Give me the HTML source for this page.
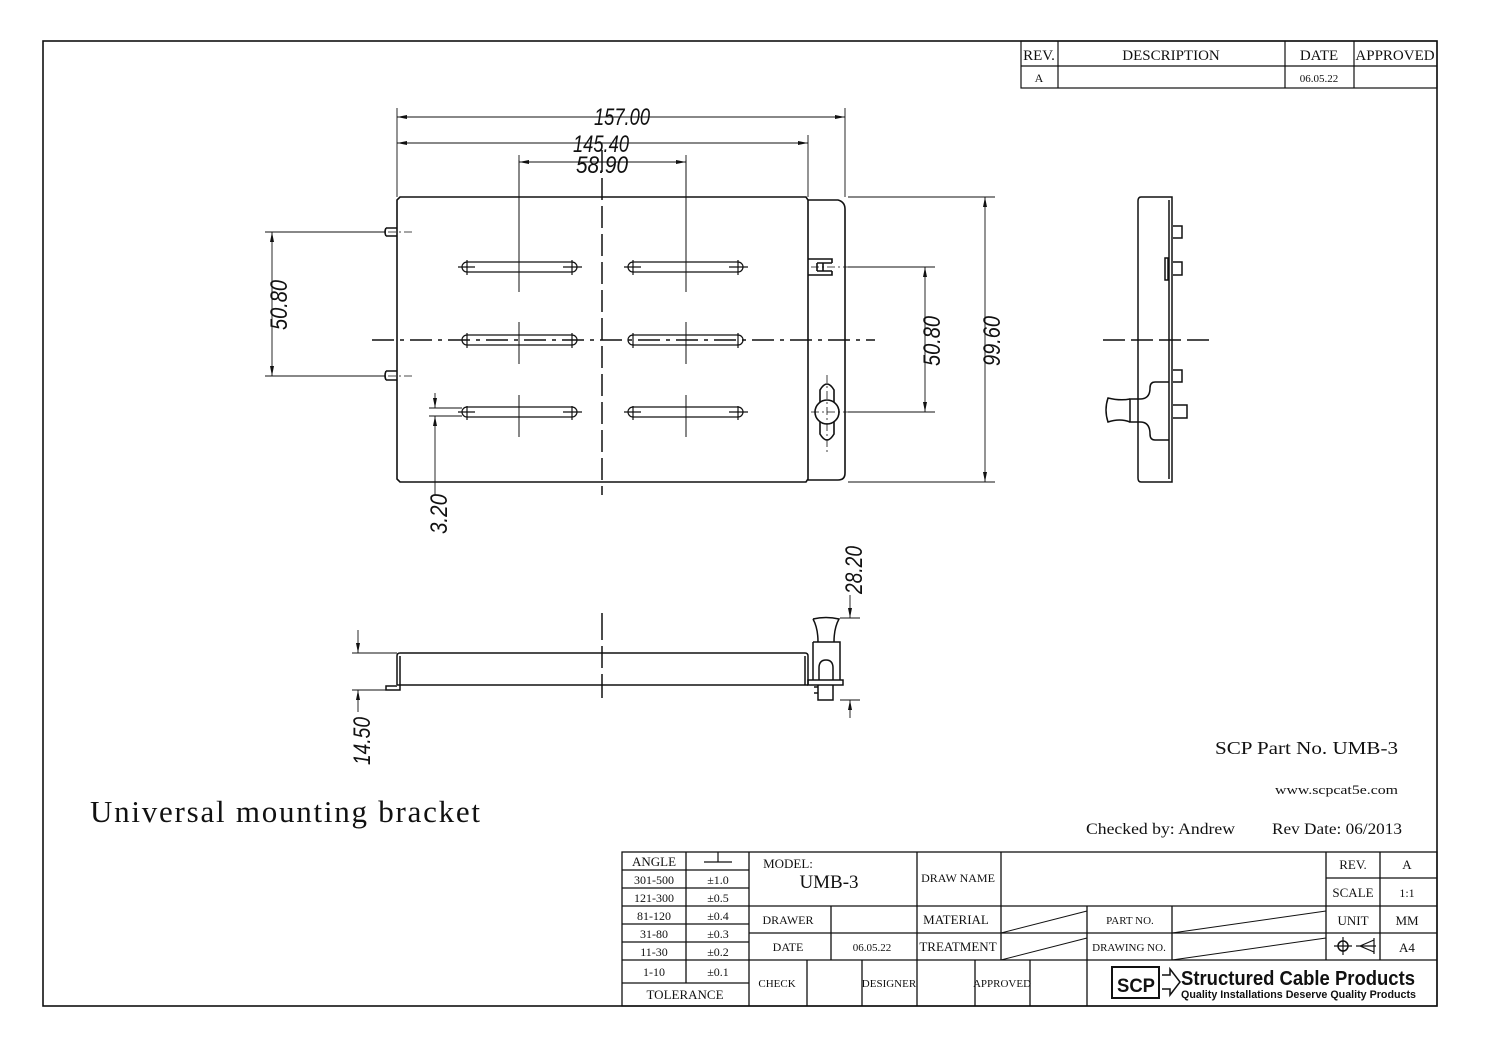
<!DOCTYPE html>
<html><head><meta charset="utf-8"><style>
html,body{margin:0;padding:0;background:#fff;}
svg{display:block;}
.s{font-family:"Liberation Serif",serif;fill:#111;}
.d{font-family:"Liberation Sans",sans-serif;font-style:italic;fill:#111;}
</style></head><body>
<svg width="1497" height="1058" viewBox="0 0 1497 1058" xmlns="http://www.w3.org/2000/svg">
<defs>
<marker id="a" markerWidth="10" markerHeight="6" refX="10" refY="3" orient="auto-start-reverse" markerUnits="userSpaceOnUse"><path d="M0,1 L10,3 L0,5z" fill="#111"/></marker>
</defs>
<rect width="1497" height="1058" fill="#fff"/>
<g fill="none" stroke="#111">
<rect x="43" y="41" width="1394" height="965" stroke-width="1.6"/>
<g stroke-width="1.2">
<rect x="1021" y="41" width="416" height="47"/>
<line x1="1021" y1="66" x2="1437" y2="66"/>
<line x1="1058" y1="41" x2="1058" y2="88"/>
<line x1="1285" y1="41" x2="1285" y2="88"/>
<line x1="1354" y1="41" x2="1354" y2="88"/>
</g>

<!-- TOP VIEW -->
<g stroke-width="1.6">
<path d="M400,197 L806,197 L808,200 L808,479 L806,482 L400,482 L397,479 L397,200 Z"/>
<path d="M808,200 L838,200 Q845,202 845,209 L845,473 Q845,480 838,480 L808,480"/>
<path d="M386,228 L397,228 M386,236 L397,236 M386,228 Q384,232 386,236"/>
<path d="M386,371 L397,371 M386,380 L397,380 M386,371 Q384,376 386,380"/>
<path d="M808,259 L832,259 L832,263 M808,275 L832,275 L832,271 M817,263 L832,263 M817,271 L832,271 M817,263 L817,271 M823,263 L823,271"/>
<circle cx="827" cy="412" r="12"/>
<path d="M820,402 L820,390 Q827,378 834,390 L834,402 M820,422 L820,434 Q827,446 834,434 L834,422"/>
</g>
<g stroke-width="1.2">
<rect x="462" y="262" width="115" height="10" rx="5"/>
<rect x="628" y="262" width="115" height="10" rx="5"/>
<rect x="462" y="335" width="115" height="10" rx="5"/>
<rect x="628" y="335" width="115" height="10" rx="5"/>
<rect x="462" y="407" width="115" height="10" rx="5"/>
<rect x="628" y="407" width="115" height="10" rx="5"/>
<path d="M467,260 V275 M572,260 V275 M633,260 V275 M738,260 V275 M467,406 V420 M572,406 V420 M633,406 V420 M738,406 V420 M467,333 V348 M572,333 V348 M633,333 V348 M738,333 V348"/>
<path d="M458,267 H475 M563,267 H582 M624,267 H641 M729,267 H748 M458,412 H475 M563,412 H582 M624,412 H641 M729,412 H748"/>
</g>
<g stroke-width="1">
<path d="M519,160 V292 M686,160 V292 M519,322 V364 M686,322 V364 M519,395 V437 M686,395 V437"/>
</g>
<line x1="602" y1="150" x2="602" y2="495" stroke-width="1.5" stroke-dasharray="22,6"/>
<line x1="372" y1="340" x2="875" y2="340" stroke-width="1.5" stroke-dasharray="22,6,4,6"/>
<path d="M372,232 H412 M372,376 H412 M811,267 H878 M811,412 H878 M827,375 V452" stroke-width="0.8" stroke-dasharray="8,3,2,3"/>
<g stroke-width="0.9">
<path d="M397,108 V197 M845,108 V197 M808,135 V197 M519,155 V245 M686,155 V245"/>
<line x1="397" y1="117" x2="845" y2="117" marker-start="url(#a)" marker-end="url(#a)"/>
<line x1="397" y1="143" x2="808" y2="143" marker-start="url(#a)" marker-end="url(#a)"/>
<line x1="519" y1="162" x2="686" y2="162" marker-start="url(#a)" marker-end="url(#a)"/>
<path d="M265,232 H386 M265,376 H386"/>
<line x1="272" y1="232" x2="272" y2="376" marker-start="url(#a)" marker-end="url(#a)"/>
<path d="M848,267 H935 M848,412 H935 M848,197 H995 M848,482 H995"/>
<line x1="925" y1="267" x2="925" y2="412" marker-start="url(#a)" marker-end="url(#a)"/>
<line x1="985" y1="197" x2="985" y2="482" marker-start="url(#a)" marker-end="url(#a)"/>
<path d="M429,408 H462 M429,416 H462"/>
<line x1="435" y1="393" x2="435" y2="408" marker-end="url(#a)"/>
<line x1="435" y1="432" x2="435" y2="416" marker-end="url(#a)"/>
<line x1="435" y1="432" x2="435" y2="495"/>
</g>

<!-- SIDE VIEW -->
<g stroke-width="1.5">
<path d="M1141,197 L1172,197 L1172,482 L1141,482 Q1138,482 1138,478 L1138,201 Q1138,197 1141,197 Z"/>
<path d="M1169,200 V479"/>
<path d="M1173,226 H1182 V238 H1173 M1173,262 H1182 V275 H1173 M1173,370 H1182 V382 H1173 M1173,405 H1187 V418 H1173"/>
<path d="M1165,258 H1168 V280 H1165 Z"/>
<path d="M1169,382 H1155 Q1150,382 1150,388 Q1150,399 1140,399 H1130 V422 H1140 Q1150,422 1150,434 Q1150,440 1155,440 H1169"/>
<path d="M1130,399 Q1120,401 1108,398 Q1104,410 1108,422 Q1120,418 1130,422"/>
</g>
<line x1="1103" y1="340" x2="1215" y2="340" stroke-width="1.5" stroke-dasharray="22,6"/>

<!-- BOTTOM VIEW -->
<g stroke-width="1.5">
<path d="M397,685 L397,656 Q397,653 400,653 L805,653 Q808,653 808,656 L808,685"/>
<path d="M400,656 V685 M805,656 V685"/>
<line x1="397" y1="685" x2="808" y2="685"/>
<path d="M400,685 V690 H386 V686 H397"/>
<path d="M813,619 Q826,616 839,619 Q834,628 834,642 M813,619 Q818,628 818,642"/>
<path d="M813,642 H840 V680 M813,642 V680 M819,680 V668 Q819,660 826,660 Q833,660 833,668 V680"/>
<path d="M808,680 H843 V685 H808 Z"/>
<path d="M818,685 V700 H833 V685 M814,687 H818 V693 H814"/>
</g>
<path d="M602,613 V640 M602,646 V668 M602,674 V698" stroke-width="1.5"/>
<g stroke-width="0.9">
<path d="M352,653 H397 M352,690 H386 M840,618 H860 M840,700 H860"/>
<line x1="358" y1="630" x2="358" y2="653" marker-end="url(#a)"/>
<line x1="358" y1="712" x2="358" y2="690" marker-end="url(#a)"/>
<line x1="850" y1="595" x2="850" y2="618" marker-end="url(#a)"/>
<line x1="850" y1="718" x2="850" y2="700" marker-end="url(#a)"/>
</g>

<!-- TITLE BLOCK -->
<g stroke-width="1.3">
<rect x="622" y="852" width="815" height="154"/>
<path d="M686,852 V983 M749,852 V1006 M622,870 H749 M622,888 H749 M622,906 H749 M622,924 H749 M622,942 H749 M622,960 H749 M622,983 H749"/>
<path d="M917,852 V1006 M1001,852 V960 M1326,852 V960 M1380,852 V960 M1326,878 H1437 M1326,906 H1437 M1326,933 H1437"/>
<path d="M749,906 H1326 M749,933 H1326 M749,960 H1437 M831,906 V960 M1087,906 V1006 M1172,906 V960"/>
<path d="M807,960 V1006 M862,960 V1006 M975,960 V1006 M1030,960 V1006"/>
<path d="M1001,933 L1087,911 M1001,960 L1087,938 M1172,933 L1326,911 M1172,960 L1326,938" stroke-width="1"/>
<path d="M704,862 H732 M718,852 V862" stroke-width="1.2"/>
<circle cx="1343" cy="946" r="5" stroke-width="1.5"/>
<path d="M1334,946 H1352 M1343,937 V955 M1356,946 H1376 M1360,946 L1374,940 V952 Z M1374,938 V954" stroke-width="1.2"/>
<rect x="1112" y="967" width="47" height="31" stroke-width="2"/>
<path d="M1162,975 H1170 V969 L1180,982 L1170,995 V989 H1162" stroke-width="1.5"/>
</g>
</g>

<g class="d" font-size="24">
<text x="594" y="125" textLength="56" lengthAdjust="spacingAndGlyphs">157.00</text>
<text x="573" y="152" textLength="56" lengthAdjust="spacingAndGlyphs">145.40</text>
<text x="576" y="173" textLength="52" lengthAdjust="spacingAndGlyphs">58.90</text>
<text transform="translate(287,330) rotate(-90)" textLength="50" lengthAdjust="spacingAndGlyphs">50.80</text>
<text transform="translate(940,366) rotate(-90)" textLength="50" lengthAdjust="spacingAndGlyphs">50.80</text>
<text transform="translate(1000,366) rotate(-90)" textLength="50" lengthAdjust="spacingAndGlyphs">99.60</text>
<text transform="translate(447,534) rotate(-90)" textLength="40" lengthAdjust="spacingAndGlyphs">3.20</text>
<text transform="translate(370,765) rotate(-90)" textLength="48" lengthAdjust="spacingAndGlyphs">14.50</text>
<text transform="translate(862,594) rotate(-90)" textLength="48" lengthAdjust="spacingAndGlyphs">28.20</text>
</g>

<g class="s" text-anchor="middle" font-size="14">
<text x="1039" y="60" font-size="15">REV.</text>
<text x="1171" y="60" font-size="15">DESCRIPTION</text>
<text x="1319" y="60" font-size="15">DATE</text>
<text x="1395" y="60" font-size="15">APPROVED</text>
<text x="1039" y="82" font-size="12">A</text>
<text x="1319" y="82" font-size="11">06.05.22</text>
<text x="654" y="866" font-size="13">ANGLE</text>
<text x="654" y="884" font-size="12">301-500</text>
<text x="718" y="884" font-size="12">±1.0</text>
<text x="654" y="902" font-size="12">121-300</text>
<text x="718" y="902" font-size="12">±0.5</text>
<text x="654" y="920" font-size="12">81-120</text>
<text x="718" y="920" font-size="12">±0.4</text>
<text x="654" y="938" font-size="12">31-80</text>
<text x="718" y="938" font-size="12">±0.3</text>
<text x="654" y="956" font-size="12">11-30</text>
<text x="718" y="956" font-size="12">±0.2</text>
<text x="654" y="976" font-size="12">1-10</text>
<text x="718" y="976" font-size="12">±0.1</text>
<text x="685" y="999" font-size="13">TOLERANCE</text>
<text x="788" y="868" font-size="13">MODEL:</text>
<text x="829" y="888" font-size="19">UMB-3</text>
<text x="958" y="882" font-size="12">DRAW NAME</text>
<text x="1353" y="869" font-size="13">REV.</text>
<text x="1407" y="869" font-size="13">A</text>
<text x="1353" y="897" font-size="13">SCALE</text>
<text x="1407" y="897" font-size="12">1:1</text>
<text x="1353" y="925" font-size="13">UNIT</text>
<text x="1407" y="925" font-size="13">MM</text>
<text x="1407" y="952" font-size="13">A4</text>
<text x="788" y="924" font-size="12">DRAWER</text>
<text x="788" y="951" font-size="12">DATE</text>
<text x="872" y="951" font-size="11">06.05.22</text>
<text x="956" y="924" font-size="13">MATERIAL</text>
<text x="958" y="951" font-size="13">TREATMENT</text>
<text x="1130" y="924" font-size="11">PART NO.</text>
<text x="1129" y="951" font-size="11">DRAWING NO.</text>
<text x="777" y="987" font-size="11">CHECK</text>
<text x="889" y="987" font-size="11">DESIGNER</text>
<text x="1002" y="987" font-size="11">APPROVED</text>
</g>

<g font-family="Liberation Sans,sans-serif" font-weight="bold" fill="#111">
<text x="1117" y="992" font-size="19" textLength="38" lengthAdjust="spacingAndGlyphs">SCP</text>
<text x="1181" y="985" font-size="20" textLength="234" lengthAdjust="spacingAndGlyphs">Structured Cable Products</text>
<text x="1181" y="998" font-size="11" textLength="235" lengthAdjust="spacingAndGlyphs">Quality Installations Deserve Quality Products</text>
</g>

<g class="s">
<text x="1215" y="754" font-size="18" textLength="183" lengthAdjust="spacingAndGlyphs">SCP Part No. UMB-3</text>
<text x="1275" y="794" font-size="13" textLength="123" lengthAdjust="spacingAndGlyphs">www.scpcat5e.com</text>
<text x="1086" y="834" font-size="16" textLength="149" lengthAdjust="spacingAndGlyphs">Checked by: Andrew</text>
<text x="1272" y="834" font-size="16" textLength="130" lengthAdjust="spacingAndGlyphs">Rev Date: 06/2013</text>
<text x="90" y="822" font-size="31" textLength="390" lengthAdjust="spacing">Universal mounting bracket</text>
</g>
</svg>
</body></html>
